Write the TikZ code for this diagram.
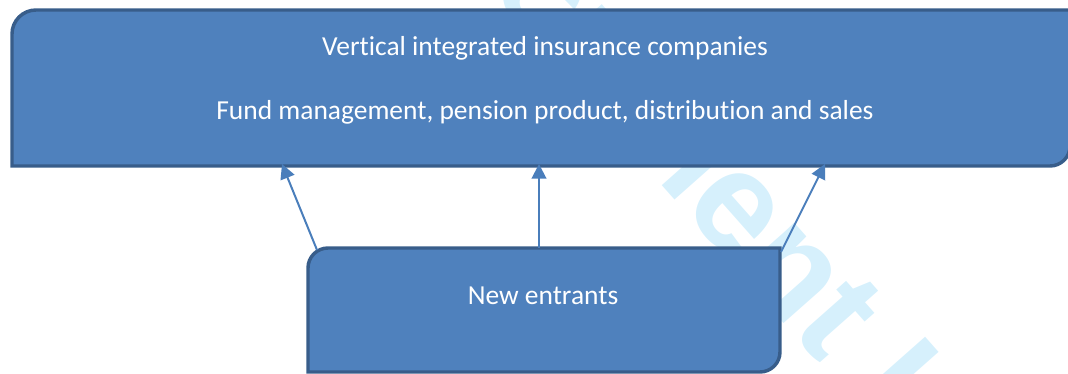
\documentclass[tikz,border=0pt]{standalone}
\usepackage{fontspec}
\setmainfont{Carlito}[Ligatures=NoCommon]
\newfontfamily\stampfont{Liberation Sans}
\usetikzlibrary{arrows.meta,calc}
\definecolor{boxfill}{RGB}{79,129,189}
\definecolor{boxedge}{RGB}{56,93,138}
\definecolor{linkblue}{RGB}{74,126,187}
\definecolor{stampcyan}{RGB}{214,240,252}

\begin{document}
\begin{tikzpicture}[x=0.75pt,y=0.75pt,
		boxline/.style={draw=boxedge,line width=2.6pt,fill=boxfill},
		frame/.style={inner sep=0pt,outer sep=0pt},
		link/.style={draw=linkblue,line width=1.5pt,-{Triangle[length=11pt,width=11pt]}},
		label/.style={text=white,font=\fontsize{20.6}{24}\selectfont,anchor=base}]
	%Page area
	\useasboundingbox (0,0) rectangle (1068,374);
	\clip (0,0) rectangle (1068,374);
	%Faint stamp lying under everything
	\node [anchor=base west,rotate=-48.5,text=stampcyan,
		font=\stampfont\bfseries\fontsize{106}{110}\selectfont] (stamp) at (360,530) {Document Locked};
	%Frames of the two boxes
	\node [frame,minimum width=793.5pt,minimum height=117pt] (upper) at (541,286) {};
	\node [frame,minimum width=354pt,minimum height=93pt] (lower) at (544,64) {};
	%Upper box: round top left and bottom right corners
	\draw [boxline] (upper.south west) -- ([yshift=-18pt]upper.north west)
		arc (180:90:18pt) -- (upper.north east) -- ([yshift=15pt]upper.south east)
		arc (0:-90:15pt) -- cycle;
	%Lower box: same corner style
	\draw [boxline] (lower.south west) -- ([yshift=-15pt]lower.north west)
		arc (180:90:15pt) -- (lower.north east) -- ([yshift=15pt]lower.south east)
		arc (0:-90:15pt) -- cycle;
	%Texts
	\node [label] (vertical) at ($(upper.north)+(4,-46)$) {Vertical integrated insurance companies};
	\node [label] (fund) at ($(upper.north)+(4,-110)$) {Fund management, pension product, distribution and sales};
	\node [label] (entrants) at ($(lower.north)+(-1,-57)$) {New entrants};
	%Arrows from the new entrants up to the companies
	\draw [link] ($(lower.north west)+(9,-2)$) -- ($(upper.south west)+(270,2)$);
	\draw [link] ($(lower.north)+(-5,0)$) -- ($(upper.south west)+(527,2)$);
	\draw [link] ($(lower.north east)+(1,-4)$) -- ($(upper.south west)+(813,2)$);
\end{tikzpicture}
\end{document}
